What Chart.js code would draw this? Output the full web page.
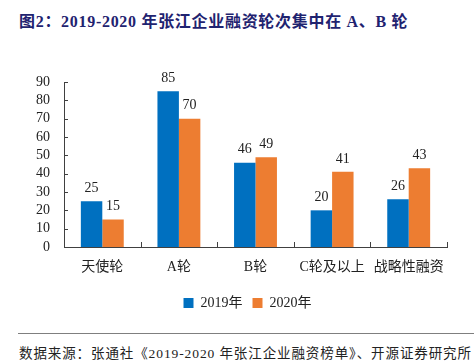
<!DOCTYPE html>
<html>
<head>
<meta charset="utf-8">
<script src="https://cdn.jsdelivr.net/npm/chart.js@4/dist/chart.umd.min.js"></script>
<style>
    body { margin: 0; background: #fff; width: 474px; height: 364px; position: relative; overflow: hidden; }
    #title {
        position: absolute; left: 19px; top: 8px;
        font: bold 16px "Liberation Serif", "Noto Sans CJK SC", serif;
        letter-spacing: 0.7px; color: #1f2370; white-space: nowrap;
    }
    #chartBox { position: absolute; left: 0; top: 40px; width: 474px; height: 280px; }
    #rule { position: absolute; left: 18px; right: 0; top: 333px; border-top: 1px solid #7f7f7f; }
    #source {
        position: absolute; left: 19px; top: 342px;
        font: 13.5px "Liberation Serif", "Noto Sans CJK SC", serif;
        letter-spacing: 0.9px; color: #222; white-space: nowrap;
    }
</style>
</head>
<body>
<div id="title">图2：2019-2020 年张江企业融资轮次集中在 A、B 轮</div>
<div id="chartBox"><canvas id="roundChart"></canvas></div>
<div id="rule"></div>
<div id="source">数据来源：张通社《2019-2020 年张江企业融资榜单》、开源证券研究所</div>
<script>
const categories = ["天使轮", "A轮", "B轮", "C轮及以上", "战略性融资"];
const values2019 = [25, 85, 46, 20, 26];
const values2020 = [15, 70, 49, 41, 43];
const yTicks = [0, 10, 20, 30, 40, 50, 60, 70, 80, 90];

const serif = '"Liberation Serif", "Noto Sans CJK SC", serif';
const axisColor = "#404040";

// value labels above each bar
const barLabels = {
    id: "barLabels",
    afterDatasetsDraw(chart) {
        const ctx = chart.ctx;
        ctx.save();
        ctx.font = "14px " + serif;
        ctx.fillStyle = "#222";
        ctx.textAlign = "center";
        ctx.textBaseline = "bottom";
        chart.data.datasets.forEach((ds, i) => {
            chart.getDatasetMeta(i).data.forEach((bar, j) => {
                ctx.fillText(ds.data[j], bar.x, bar.y - 6);
            });
        });
        ctx.restore();
    }
};

// small tick marks pointing into the plot
const innerTicks = {
    id: "innerTicks",
    afterDraw(chart) {
        const ctx = chart.ctx;
        const x = chart.scales.x;
        const y = chart.scales.y;
        ctx.save();
        ctx.strokeStyle = axisColor;
        ctx.lineWidth = 1;
        ctx.beginPath();
        yTicks.forEach(v => {
            const py = Math.round(y.getPixelForValue(v)) + 0.5;
            ctx.moveTo(x.left, py);
            ctx.lineTo(x.left + 4, py);
        });
        for (let i = 0; i <= categories.length; i++) {
            const px = Math.round(x.getPixelForValue(i - 0.5)) + 0.5;
            ctx.moveTo(px, y.bottom);
            ctx.lineTo(px, y.bottom - 5);
        }
        ctx.stroke();
        ctx.restore();
    }
};

// legend in the original sits a bit right of the canvas centre
const legendShift = {
    id: "legendShift",
    afterLayout(chart) {
        chart.legend.left += 24;
        chart.legend.right += 24;
    }
};

new Chart(document.getElementById("roundChart"), {
    type: "bar",
    data: {
        labels: categories,
        datasets: [{
            label: "2019年",
            data: values2019,
            backgroundColor: "#0070c0",
            barPercentage: 1,
            categoryPercentage: 0.56
        }, {
            label: "2020年",
            data: values2020,
            backgroundColor: "#ed7d31",
            barPercentage: 1,
            categoryPercentage: 0.56
        }]
    },
    options: {
        responsive: true,
        maintainAspectRatio: false,
        animation: false,
        layout: {
            padding: { top: 42, right: 27, left: 0, bottom: 0 }
        },
        plugins: {
            legend: {
                position: "bottom",
                labels: {
                    boxWidth: 10,
                    boxHeight: 10,
                    padding: 10,
                    color: "#222",
                    font: { family: serif, size: 14 }
                }
            },
            tooltip: { enabled: false }
        },
        scales: {
            x: {
                grid: { display: false, drawTicks: false },
                border: { color: axisColor },
                ticks: {
                    padding: 12,
                    color: "#222",
                    font: { family: serif, size: 14 }
                },
                afterFit(scale) { scale.height = 39; }
            },
            y: {
                min: 0,
                max: 90,
                grid: { display: false, drawTicks: false },
                border: { color: axisColor },
                afterBuildTicks(scale) {
                    scale.ticks = yTicks.map(v => ({ value: v }));
                },
                ticks: {
                    autoSkip: false,
                    padding: 14,
                    color: "#222",
                    font: { family: serif, size: 14 }
                },
                afterFit(scale) { scale.width = 64; }
            }
        }
    },
    plugins: [barLabels, innerTicks, legendShift]
});
</script>
</body>
</html>
